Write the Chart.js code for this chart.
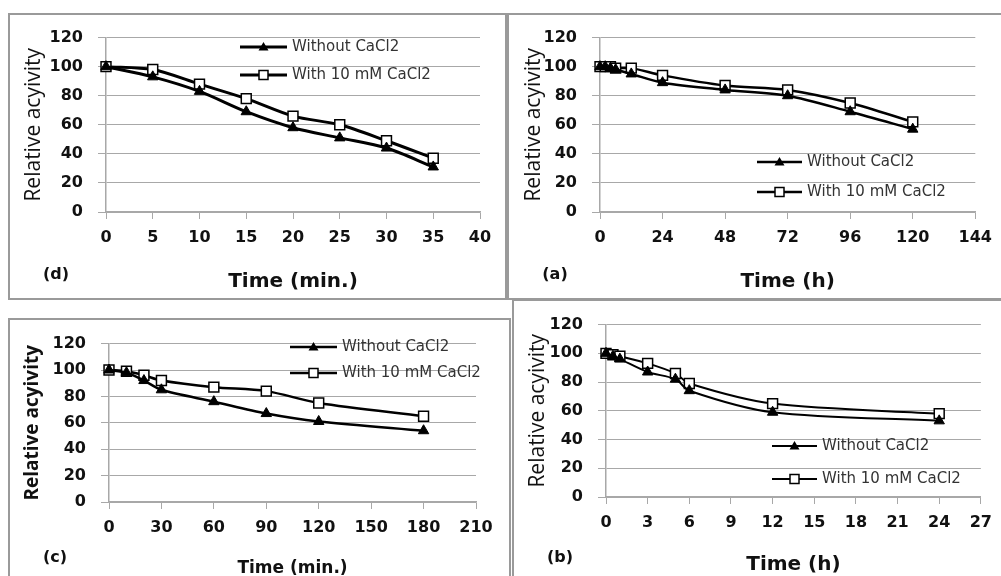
<!DOCTYPE html>
<html>
<head>
<meta charset="utf-8">
<script src="https://cdn.jsdelivr.net/npm/chart.js@4.4.1/dist/chart.umd.min.js"></script>
<style>
body{margin:0;width:1001px;height:576px;overflow:hidden;background:#fff;position:relative}
.box{position:absolute;border:2px solid #9a9a9a;box-sizing:border-box}
canvas{position:absolute}
</style>
</head>
<body>
<div class="box" style="left:8px;top:13px;width:499px;height:287px"></div>
<div class="box" style="left:507px;top:13px;width:520px;height:287px"></div>
<div class="box" style="left:8px;top:318px;width:503px;height:300px"></div>
<div class="box" style="left:512px;top:299px;width:520px;height:300px"></div>

<canvas id="chartD" width="497" height="285" style="left:8px;top:13px"></canvas>
<canvas id="chartA" width="493" height="285" style="left:508px;top:13px"></canvas>
<canvas id="chartC" width="502" height="277" style="left:8px;top:319px"></canvas>
<canvas id="chartB" width="489" height="290" style="left:512px;top:300px"></canvas>

<script>
// (d) thermal stability, minutes
var timeD = [0, 5, 10, 15, 20, 25, 30, 35]
var withoutD = [100, 93, 83, 69, 58, 51, 44, 31]
var withD = [100, 98, 88, 78, 66, 60, 49, 37]

// (a) hours
var timeA = [0, 2, 4, 6, 12, 24, 48, 72, 96, 120]
var withoutA = [100, 100, 99, 98, 95, 89, 84, 80, 69, 57]
var withA = [100, 100, 100, 99, 99, 94, 87, 84, 75, 62]

// (c) minutes
var timeC = [0, 10, 20, 30, 60, 90, 120, 180]
var withoutC = [100, 98, 92, 85, 76, 67, 61, 54]
var withC = [100, 99, 96, 92, 87, 84, 75, 65]

// (b) hours
var timeB = [0, 0.5, 1, 3, 5, 6, 12, 24]
var withoutB = [100, 98, 96, 87, 82, 74, 59, 53]
var withB = [100, 99, 98, 93, 86, 79, 65, 58]

var yTicks = [0, 20, 40, 60, 80, 100, 120]
var seriesNames = ['Without CaCl2', 'With 10 mM CaCl2']

const gridGray = '#a8a8a8'

// draws the in-plot legend and the (a)/(b)/... tag
const panelDecor = {
  id: 'panelDecor',
  afterDraw(chart, args, opts) {
    const ctx = chart.ctx
    ctx.save()
    chart.data.datasets.forEach(function (ds, i) {
      var y = opts.ly[i]
      ctx.strokeStyle = '#000'
      ctx.lineWidth = ds.borderWidth
      ctx.beginPath()
      ctx.moveTo(opts.lx1, y)
      ctx.lineTo(opts.lx2, y)
      ctx.stroke()
      var cx = (opts.lx1 + opts.lx2) / 2
      ctx.lineWidth = 1.5
      if (ds.pointStyle == 'triangle') {
        ctx.fillStyle = '#000'
        ctx.beginPath()
        ctx.moveTo(cx, y - 5)
        ctx.lineTo(cx + 5, y + 3.5)
        ctx.lineTo(cx - 5, y + 3.5)
        ctx.closePath()
        ctx.fill()
      } else {
        ctx.fillStyle = '#fff'
        ctx.fillRect(cx - 4.5, y - 4.5, 9, 9)
        ctx.strokeRect(cx - 4.5, y - 4.5, 9, 9)
      }
      ctx.fillStyle = '#333'
      ctx.font = '15px "DejaVu Sans"'
      ctx.textBaseline = 'middle'
      ctx.textAlign = 'left'
      ctx.fillText(ds.label, opts.lx2 + 5, y)
    })
    ctx.fillStyle = '#111'
    ctx.font = 'bold 16px "DejaVu Sans"'
    ctx.textAlign = 'center'
    ctx.textBaseline = 'middle'
    ctx.fillText(opts.tag, opts.tagX, opts.tagY)
    ctx.restore()
  }
}

function toPoints(xs, ys) {
  var res = []
  for (var i = 0; i < xs.length; i++) res.push({x: xs[i], y: ys[i]})
  return res
}

function makePanel(id, time, without, withCa, p) {
  new Chart(document.getElementById(id), {
    type: 'line',
    data: {
      datasets: [
        {
          label: seriesNames[0],
          data: toPoints(time, without),
          borderColor: '#000',
          borderWidth: p.lw,
          pointStyle: 'triangle',
          pointRadius: 6,
          pointBackgroundColor: '#000',
          pointBorderColor: '#000',
          pointBorderWidth: 1,
          tension: 0.3,
          clip: false
        },
        {
          label: seriesNames[1],
          data: toPoints(time, withCa),
          borderColor: '#000',
          borderWidth: p.lw,
          pointStyle: 'rect',
          pointRadius: 7,
          pointBackgroundColor: '#fff',
          pointBorderColor: '#000',
          pointBorderWidth: 1.5,
          tension: 0.3,
          clip: false
        }
      ]
    },
    plugins: [panelDecor],
    options: {
      responsive: false,
      animation: false,
      events: [],
      layout: {padding: {left: 0, top: p.top, right: p.right, bottom: 0}},
      plugins: {
        legend: {display: false},
        tooltip: {enabled: false},
        panelDecor: p.decor
      },
      scales: {
        x: {
          type: 'linear',
          min: 0,
          max: p.xmax,
          afterFit: function (s) { s.height = p.xh },
          ticks: {
            stepSize: p.xstep,
            autoSkip: false,
            maxRotation: 0,
            padding: 9,
            color: '#111',
            font: {family: 'DejaVu Sans', size: 16, weight: 'bold'}
          },
          grid: {drawOnChartArea: false, drawTicks: true, tickLength: 7, color: gridGray},
          border: {color: gridGray, width: 1.5},
          title: {
            display: true,
            text: p.xtitle,
            color: '#111',
            font: {family: 'DejaVu Sans', size: p.xts, weight: 'bold'},
            padding: {top: 0, bottom: p.xtp}
          }
        },
        y: {
          min: 0,
          max: 120,
          afterFit: function (s) { s.width = p.yw },
          afterBuildTicks: function (s) { s.ticks = yTicks.map(function (v) { return {value: v} }) },
          ticks: {
            padding: 15,
            color: '#111',
            font: {family: 'DejaVu Sans', size: 16, weight: 'bold'}
          },
          grid: {color: gridGray, tickLength: 8, lineWidth: 1},
          border: {color: gridGray, width: 1.5},
          title: {
            display: true,
            text: 'Relative acyivity',
            color: '#111',
            font: {family: 'Open Sans', size: p.yts, weight: p.ytw},
            padding: {top: 13, bottom: 0}
          }
        }
      }
    }
  })
}

makePanel('chartD', timeD, withoutD, withD, {
  lw: 3, top: 15, right: 25, yw: 98, xh: 86, xmax: 40, xstep: 5,
  xtitle: 'Time (min.)', xts: 20, xtp: 4, yts: 21, ytw: 'normal',
  decor: {lx1: 232, lx2: 279, ly: [34, 62], tag: '(d)', tagX: 48, tagY: 262}
})
makePanel('chartA', timeA, withoutA, withA, {
  lw: 2.5, top: 15, right: 22, yw: 92, xh: 86, xmax: 144, xstep: 24,
  xtitle: 'Time (h)', xts: 20, xtp: 4, yts: 21, ytw: 'normal',
  decor: {lx1: 249, lx2: 294, ly: [149, 179], tag: '(a)', tagX: 47, tagY: 262}
})
makePanel('chartC', timeC, withoutC, withC, {
  lw: 2.5, top: 14, right: 34, yw: 101, xh: 94, xmax: 210, xstep: 30,
  xtitle: 'Time (min.)', xts: 17, xtp: 17, yts: 19, ytw: 'bold',
  decor: {lx1: 282, lx2: 329, ly: [28, 54], tag: '(c)', tagX: 47, tagY: 239}
})
makePanel('chartB', timeB, withoutB, withB, {
  lw: 2, top: 16, right: 17, yw: 94, xh: 93, xmax: 27, xstep: 3,
  xtitle: 'Time (h)', xts: 20, xtp: 13, yts: 21, ytw: 'normal',
  decor: {lx1: 260, lx2: 305, ly: [146, 179], tag: '(b)', tagX: 48, tagY: 258}
})
</script>
</body>
</html>
